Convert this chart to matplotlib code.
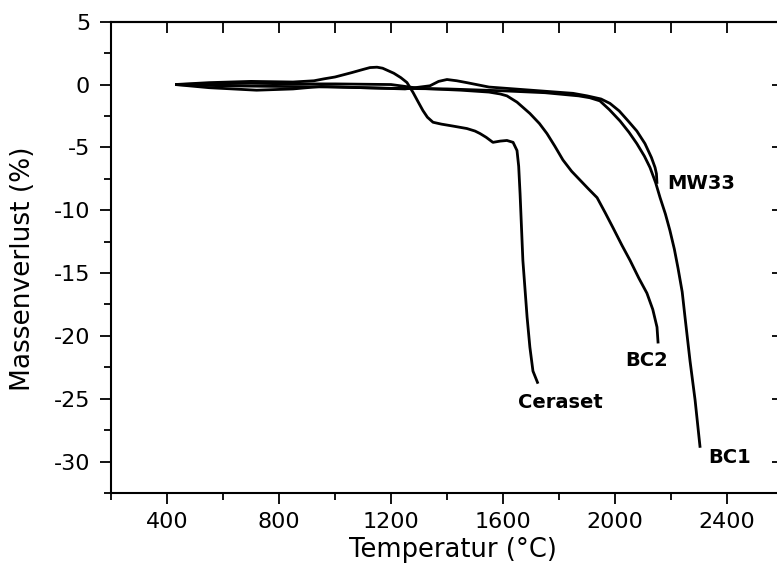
import numpy as np
import matplotlib
matplotlib.use("Agg")
import matplotlib.pyplot as plt
from matplotlib.ticker import MultipleLocator

plt.rcParams['font.family'] = ['DejaVu Sans']
plt.rcParams['axes.unicode_minus'] = False

# TGA mass loss curves, temperature in degC, mass change in %
ceraset_T = [429, 550, 700, 850, 925, 960, 1000, 1060, 1100, 1125, 1150, 1170, 1190,
             1210, 1235, 1257, 1279, 1295, 1314, 1330, 1350, 1380, 1420, 1471, 1500,
             1518, 1540, 1564, 1590, 1614, 1636, 1650, 1656, 1661, 1671, 1686, 1696,
             1707, 1725]
ceraset_m = [0, 0.15, 0.25, 0.2, 0.3, 0.45, 0.6, 0.95, 1.2, 1.35, 1.38, 1.3, 1.1,
             0.9, 0.55, 0.16, -0.64, -1.3, -2.07, -2.6, -3.0, -3.15, -3.3, -3.5, -3.7,
             -3.9, -4.2, -4.6, -4.5, -4.45, -4.6, -5.25, -6.5, -8.7, -14.0, -18.5, -20.9,
             -22.8, -23.8]

bc2_T = [429, 550, 700, 850, 1000, 1200, 1300, 1450, 1550, 1590, 1614, 1650, 1696,
         1730, 1757, 1785, 1814, 1845, 1875, 1905, 1936, 1965, 1993, 2025, 2054, 2085,
         2114, 2135, 2150, 2154]
bc2_m = [0, 0.05, 0.1, 0.05, 0.05, 0.0, -0.3, -0.45, -0.6, -0.75, -0.9, -1.4, -2.3,
         -3.1, -3.9, -4.9, -6.0, -6.9, -7.6, -8.3, -9.0, -10.2, -11.4, -12.8, -14.0, -15.4,
         -16.6, -17.9, -19.3, -20.6]

mw33_T = [429, 550, 720, 850, 950, 1100, 1250, 1339, 1370, 1400, 1435, 1471, 1550,
          1700, 1850, 1900, 1950, 1982, 2015, 2047, 2078, 2107, 2130, 2143, 2148, 2150]
mw33_m = [0, -0.25, -0.45, -0.35, -0.15, -0.25, -0.35, -0.1, 0.25, 0.4, 0.3, 0.15, -0.2,
          -0.45, -0.7, -0.9, -1.15, -1.5, -2.1, -2.9, -3.7, -4.7, -5.8, -6.6, -7.1, -7.9]

bc1_T = [429, 600, 800, 1000, 1200, 1400, 1600, 1750, 1870, 1910, 1946, 1980, 2018,
         2050, 2078, 2105, 2125, 2145, 2161, 2180, 2196, 2212, 2225, 2240, 2250, 2268,
         2286, 2304]
bc1_m = [0, -0.1, -0.15, -0.2, -0.3, -0.35, -0.5, -0.65, -0.9, -1.05, -1.3, -2.0, -2.9,
         -3.8, -4.7, -5.7, -6.6, -7.8, -9.0, -10.3, -11.6, -13.1, -14.6, -16.5, -18.5, -22.0,
         -25.1, -28.9]

labels = ['Ceraset', 'BC2', 'MW33', 'BC1']
label_pos = [(1804, -25.3, 'center'), (2114, -21.96, 'center'),
             (2186, -7.9, 'left'), (2411, -29.7, 'center')]

fig = plt.figure(figsize=(7.77, 5.79), dpi=100)
ax = fig.add_axes([111 / 777, 1 - 493 / 579, 672 / 777, 471.3 / 579])

for T, m in [(ceraset_T, ceraset_m), (bc2_T, bc2_m), (mw33_T, mw33_m), (bc1_T, bc1_m)]:
    ax.plot(T, m, color='black', lw=2.0, solid_joinstyle='round', solid_capstyle='butt')

for name, (x, y, ha) in zip(labels, label_pos):
    ax.text(x, y, name, ha=ha, va='center', fontsize=14, fontweight='bold')

ax.set_xlim(200, 2600)
ax.set_ylim(-32.5, 5)
ax.xaxis.set_major_locator(MultipleLocator(400))
ax.xaxis.set_minor_locator(MultipleLocator(200))
ax.yaxis.set_major_locator(MultipleLocator(5))
ax.yaxis.set_minor_locator(MultipleLocator(2.5))
ax.set_xticks([400, 800, 1200, 1600, 2000, 2400])

ax.tick_params(which='major', direction='out', length=8, width=1.3, labelsize=16, pad=6)
ax.tick_params(which='minor', direction='out', length=5, width=1.3)
ax.tick_params(axis='y', which='major', pad=7)

for s in ax.spines.values():
    s.set_linewidth(1.5)

# inward ticks on the top and right frame
top = ax.secondary_xaxis('top')
top.set_xticks(np.arange(200, 2601, 200))
top.tick_params(direction='in', length=8, width=1.3, labeltop=False)
right = ax.secondary_yaxis('right')
right.set_yticks(np.arange(-30, 6, 5))
right.tick_params(direction='in', length=8, width=1.3, labelright=False)
top.spines['top'].set_linewidth(1.5)
right.spines['right'].set_linewidth(1.5)

fig.text(453 / 777, 1 - 550 / 579, 'Temperatur (°C)', ha='center', va='center', fontsize=18.5)
fig.text(23 / 777, 1 - 269 / 579, 'Massenverlust (%)', ha='center', va='center',
         rotation=90, fontsize=19)

fig.savefig('out.png', dpi=100)
